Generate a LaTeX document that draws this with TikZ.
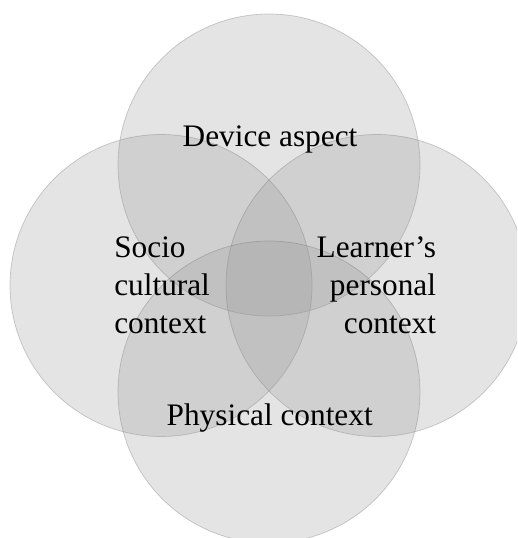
\documentclass[tikz,border=0pt]{standalone}
\usepackage{fontspec}
\setmainfont{Liberation Serif}
\begin{document}
\begin{tikzpicture}[x=1pt,y=-1pt,
  venn/.style={circle, inner sep=0pt, outer sep=0pt,
    fill={rgb,255:red,151;green,151;blue,151}, fill opacity=0.26,
    draw={rgb,255:red,110;green,110;blue,110}, draw opacity=0.35, line width=0.7pt},
  lbl/.style={inner sep=0pt, outer sep=0pt, text=black,
    font=\fontsize{31.3}{38}\selectfont}]
\useasboundingbox (0,0) rectangle (517,538);
\fill[white] (0,0) rectangle (517,538);
\clip (0,0) rectangle (517,538);
\node[venn, minimum size=302pt] (device) at (269,165) {};
\node[venn, minimum size=302pt] (socio) at (161,285.5) {};
\node[venn, minimum size=302pt] (learner) at (377,285.5) {};
\node[venn, minimum size=302pt] (physical) at (269,392) {};
\node[lbl, anchor=base] (tdevice) at (270,146) {Device aspect};
\node[lbl, anchor=base west, align=left] (tsocio) at (114.3,333.3) {Socio\\cultural\\context};
\node[lbl, anchor=base east, align=right] (tlearner) at (436,333.3) {Learner’s\\personal\\context};
\node[lbl, anchor=base] (tphysical) at (269.7,425.7) {Physical context};
\end{tikzpicture}
\end{document}
